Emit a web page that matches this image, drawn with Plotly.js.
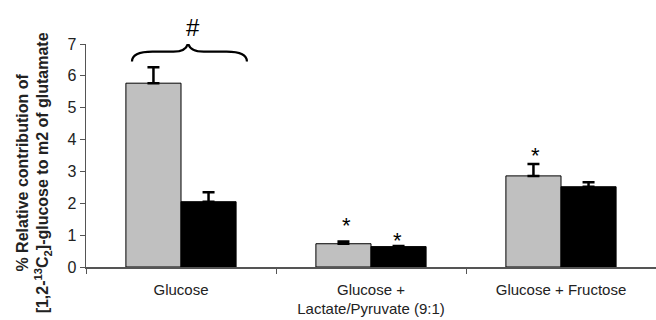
<!DOCTYPE html>
<html><head><meta charset="utf-8">
<script src="https://cdn.plot.ly/plotly-3.0.1.min.js"></script>
<style>html,body{margin:0;padding:0;background:#fff}#c{width:656px;height:320px}</style>
</head><body><div id="c"></div>
<script>
const categories = ["Glucose", "Glucose +<br>Lactate/Pyruvate (9:1)", "Glucose + Fructose"];
const grayValues = [5.77, 0.73, 2.86];
const grayErrors = [0.50, 0.07, 0.37];
const blackValues = [2.05, 0.64, 2.52];
const blackErrors = [0.30, 0.02, 0.14];
const yTicks = [0, 1, 2, 3, 4, 5, 6, 7];
const yTitle = '<b>% Relative contribution of<br>[1,2-<sup>13</sup>C<sub>2</sub>]-glucose to m2 of glutamate</b>';

const errStyle = (arr) => ({type: 'data', symmetric: false, array: arr, arrayminus: arr.map(() => 0),
  color: '#000', thickness: 2.5, width: 6});

const traces = [
  {type: 'bar', x: categories, y: grayValues, marker: {color: '#c0c0c0', line: {color: '#000', width: 1}},
   error_y: errStyle(grayErrors), showlegend: false},
  {type: 'bar', x: categories, y: blackValues, marker: {color: '#000', line: {color: '#000', width: 1}},
   error_y: errStyle(blackErrors), showlegend: false}
];

const ff = 'Liberation Sans, Arial, sans-serif';
const starFont = {family: ff, size: 22, color: '#000'};
const layout = {
  width: 656, height: 320,
  margin: {l: 86, r: 0, t: 44, b: 53},
  paper_bgcolor: '#fff', plot_bgcolor: '#fff',
  barmode: 'group', bargap: 0.42, bargroupgap: 0,
  font: {family: ff, color: '#222'},
  xaxis: {type: 'category', showline: true, linecolor: '#555', linewidth: 1.5, ticks: 'outside',
    tickson: 'boundaries', ticklen: 5, tickcolor: '#555', tickfont: {size: 15, color: '#222'},
    ticklabelstandoff: 8, showgrid: false, zeroline: false, fixedrange: true},
  yaxis: {range: [0, 7], tickvals: yTicks, showline: true, linecolor: '#555', linewidth: 1.5,
    ticks: 'outside', ticklen: 5, tickcolor: '#555', tickfont: {size: 16, color: '#222'},
    showgrid: false, zeroline: false},
  shapes: [{type: 'path', xref: 'x', yref: 'y', line: {color: '#000', width: 2.2},
    path: 'M -0.258 6.45 Q -0.258 6.76 -0.15 6.76 L -0.04 6.76 Q 0.03 6.76 0.037 7.04 Q 0.044 6.76 0.12 6.76 L 0.24 6.76 Q 0.347 6.76 0.347 6.45'}],
  annotations: [
    {x: -0.0912, y: 0.42, xref: 'paper', yref: 'paper', xanchor: 'center', yanchor: 'middle',
     text: yTitle, textangle: -90, align: 'center',
     showarrow: false, font: {family: ff, size: 16, color: '#222'}},
    {x: 0.1877, y: 1.076, xref: 'paper', yref: 'paper', xanchor: 'center', yanchor: 'middle',
     text: '#', showarrow: false, font: {family: ff, size: 24, color: '#000'}},
    {x: 1, y: grayValues[1] + grayErrors[1], xref: 'x', yref: 'y', text: '*', showarrow: false, font: starFont, xshift: -25, yshift: 16},
    {x: 1, y: blackValues[1] + blackErrors[1], xref: 'x', yref: 'y', text: '*', showarrow: false, font: starFont, xshift: 26, yshift: 5},
    {x: 2, y: grayValues[2] + grayErrors[2], xref: 'x', yref: 'y', text: '*', showarrow: false, font: starFont, xshift: -26, yshift: 9}
  ]
};
Plotly.newPlot('c', traces, layout, {displayModeBar: false, staticPlot: true});
</script></body></html>
